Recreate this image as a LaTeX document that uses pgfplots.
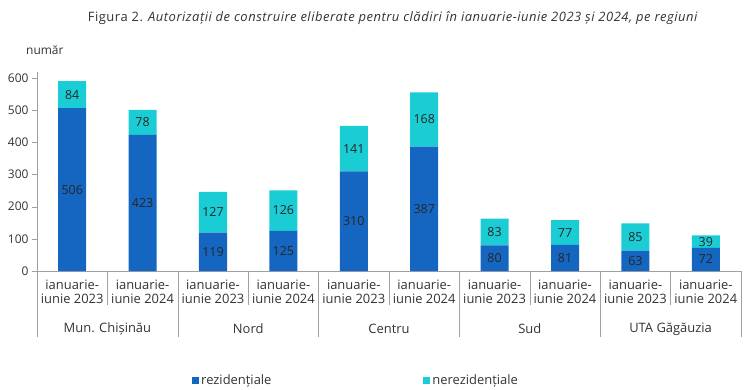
\documentclass[border=0pt]{standalone}
\usepackage{fontspec}
\setmainfont{Open Sans}
\newfontfamily\titlefont{Open Sans}[LetterSpace=4]
\usepackage{pgfplots}
\usepackage{pgfplotstable}
\pgfplotsset{compat=1.18}
\definecolor{rez}{HTML}{1566C0}
\definecolor{nerez}{HTML}{1ACCD4}
\definecolor{txt}{HTML}{333333}
\definecolor{axisgray}{HTML}{A0A0A0}
\pgfplotstableread{
x rez nerez
0 506 84
1 423 78
2 119 127
3 125 126
4 310 141
5 387 168
6 80 83
7 81 77
8 63 85
9 72 39
}\data
\begin{document}
\begin{tikzpicture}
\begin{axis}[
  scale only axis, width=704bp, height=199.43bp,
  xmin=-0.5, xmax=9.5, ymin=0, ymax=620,
  ybar stacked, bar width=28bp,
  axis lines*=left,
  axis line style={axisgray},
  ytick={0,100,...,600},
  ytick style={axisgray}, tick align=outside, major tick length=5bp,
  yticklabel style={font=\fontsize{12}{14}\selectfont, text=txt},
  /pgf/number format/assume math mode=true,
  xtick={0,...,9}, xtick style={draw=none},
  xticklabels={{ianuarie-\\iunie 2023},{ianuarie-\\iunie 2024},{ianuarie-\\iunie 2023},{ianuarie-\\iunie 2024},{ianuarie-\\iunie 2023},{ianuarie-\\iunie 2024},{ianuarie-\\iunie 2023},{ianuarie-\\iunie 2024},{ianuarie-\\iunie 2023},{ianuarie-\\iunie 2024}},
  xticklabel style={align=center, font=\fontsize{13}{15}\selectfont, text=txt, yshift=0bp},
  clip=false,
  point meta=explicit,
  nodes near coords,
  nodes near coords style={font=\fontsize{12.5}{14}\selectfont, text=black!85, anchor=center},
  legend columns=2,
  legend style={at={(0.216,-0.548)}, anchor=west, draw=none, fill=none,
    font=\fontsize{13}{15}\selectfont, text=txt,
    /tikz/every even column/.append style={column sep=150bp}},
  legend image code/.code={\fill[#1] (0bp,-3.5bp) rectangle (7bp,3.5bp);},
]
\addplot[fill=rez, draw=none] table[x=x, y=rez, meta=rez]{\data};
\addlegendentry{rezidențiale}
\addplot[fill=nerez, draw=none] table[x=x, y=nerez, meta=nerez]{\data};
\addlegendentry{nerezidențiale}
\pgfplotsinvokeforeach{-0.5,1.5,3.5,5.5,7.5,9.5}{
  \draw[axisgray] (axis cs:#1,0) -- ([yshift=-66bp]axis cs:#1,0);
}
\pgfplotsinvokeforeach{0.5,2.5,4.5,6.5,8.5}{
  \draw[axisgray] (axis cs:#1,0) -- ([yshift=-34bp]axis cs:#1,0);
}
\node[font=\fontsize{13}{15}\selectfont, text=txt] at ([yshift=-58bp]axis cs:0.5,0) {Mun. Chișinău};
\node[font=\fontsize{13}{15}\selectfont, text=txt] at ([yshift=-58bp]axis cs:2.5,0) {Nord};
\node[font=\fontsize{13}{15}\selectfont, text=txt] at ([yshift=-58bp]axis cs:4.5,0) {Centru};
\node[font=\fontsize{13}{15}\selectfont, text=txt] at ([yshift=-58bp]axis cs:6.5,0) {Sud};
\node[font=\fontsize{13}{15}\selectfont, text=txt] at ([yshift=-58bp]axis cs:8.5,0) {UTA Găgăuzia};
\end{axis}
\node[font=\titlefont\fontsize{13}{15}\selectfont, text=txt] at (356bp,253bp) {Figura 2. \textit{Autorizații de construire eliberate pentru clădiri în ianuarie-iunie 2023 și 2024, pe regiuni}};
\node[font=\fontsize{12}{14}\selectfont, text=txt, anchor=west, inner sep=0pt] at (-11bp,221bp) {număr};
\pgfresetboundingbox
\path (-37bp,-119bp) rectangle (709bp,271bp);
\end{tikzpicture}
\end{document}
